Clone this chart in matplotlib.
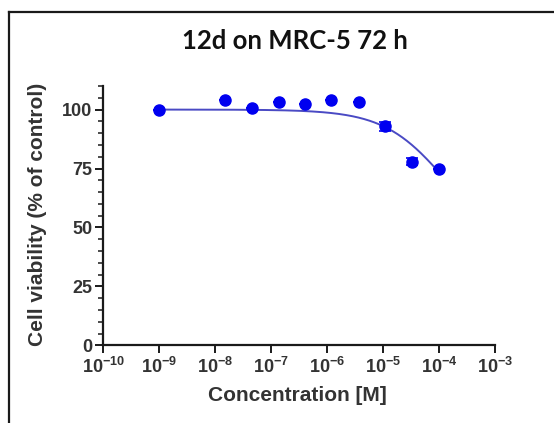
import numpy as np
import matplotlib
matplotlib.use("Agg")
import matplotlib.pyplot as plt
from matplotlib.lines import Line2D
from matplotlib.ticker import FixedLocator, MultipleLocator, NullLocator

# measured viability (% of control) for each concentration (M)
concentration = [1e-9, 1.5e-8, 4.6e-8, 1.4e-7, 4.1e-7, 1.2e-6, 3.7e-6, 1.1e-5, 3.3e-5, 1e-4]
viability = [100.0, 104.0, 100.7, 103.1, 102.4, 104.0, 103.1, 92.9, 77.9, 74.6]
viability_err = [0, 0, 0, 0, 0, 0, 0, 1.8, 1.5, 0]

# dose-response fit
fit_top = 100.0
fit_bottom = 40.0
fit_ec50 = 1.35e-4
fit_hill = 0.78
fit_range = (1e-9, 1e-4)

x_ticks = [1e-10, 1e-9, 1e-8, 1e-7, 1e-6, 1e-5, 1e-4, 1e-3]
x_tick_labels = ["-10", "-9", "-8", "-7", "-6", "-5", "-4", "-3"]
y_ticks = [0, 25, 50, 75, 100]

plt.rcParams["mathtext.fontset"] = "custom"
plt.rcParams["mathtext.bf"] = "Liberation Sans:bold"
plt.rcParams["mathtext.rm"] = "Liberation Sans:bold"

W, H = 554, 423
fig = plt.figure(figsize=(W / 100, H / 100), dpi=100)

# outer frame (cut off at right and bottom)
frame_kw = dict(color="#1a1a1a", linewidth=1.6, transform=fig.transFigure)
fig.add_artist(Line2D([9 / W, 9 / W], [1 - 12 / H, -0.05], **frame_kw))
fig.add_artist(Line2D([9 / W, 1.05], [1 - 12 / H, 1 - 12 / H], **frame_kw))

ax = fig.add_axes([103.3 / W, 1 - 345.3 / H, 391.4 / W, 259.3 / H])

xs = np.logspace(np.log10(fit_range[0]), np.log10(fit_range[1]), 300)
ys = fit_bottom + (fit_top - fit_bottom) / (1 + (xs / fit_ec50) ** fit_hill)
ax.plot(xs, ys, color="#4a4ac4", linewidth=1.4, zorder=2)

ax.errorbar(concentration, viability, yerr=viability_err, fmt="o", color="#0000f0",
            markersize=8, elinewidth=1.2, capsize=4, capthick=1.2, zorder=3)

ax.set_xscale("log")
ax.set_xlim(1e-10, 1e-3)
ax.set_ylim(0, 110)

ax.xaxis.set_major_locator(FixedLocator(x_ticks))
ax.xaxis.set_minor_locator(NullLocator())
ax.set_xticklabels([r"$\mathbf{10^{%s}}$" % t for t in x_tick_labels])
ax.yaxis.set_major_locator(FixedLocator(y_ticks))
ax.yaxis.set_minor_locator(MultipleLocator(5))

for side in ["top", "right"]:
    ax.spines[side].set_visible(False)
for side in ["left", "bottom"]:
    ax.spines[side].set_linewidth(1.6)
    ax.spines[side].set_color("#1a1a1a")

ax.tick_params(axis="both", which="major", length=6, width=1.4, color="#1a1a1a",
               labelsize=13, labelcolor="#333333", pad=2)
ax.tick_params(axis="y", which="minor", length=3.5, width=1.1, color="#1a1a1a")
for lab in ax.get_yticklabels():
    lab.set_fontfamily("Liberation Sans")
    lab.set_fontweight("bold")

fig.text(295 / W, 1 - 41 / H, "12d on MRC-5 72 h", ha="center", va="center",
         fontsize=18.5, fontweight="bold", family="Lato", color="#111111")
fig.text(297 / W, 1 - 395 / H, "Concentration [M]", ha="center", va="center",
         fontsize=15, fontweight="bold", family="Liberation Sans", color="#333333")
fig.text(38 / W, 1 - 214 / H, "Cell viability (% of control)", ha="center", va="center",
         rotation=90, fontsize=15, fontweight="bold", family="Liberation Sans",
         color="#333333")

fig.savefig("out.png", dpi=100)
